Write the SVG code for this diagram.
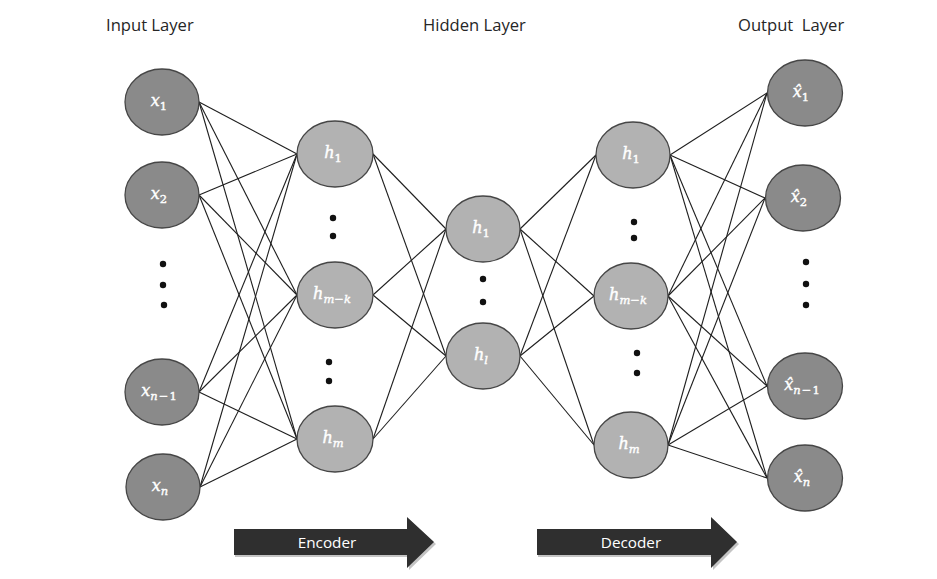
<svg xmlns="http://www.w3.org/2000/svg" width="937" height="579" viewBox="0 0 937 579">
<style>
.title{font-family:"Open Sans","Liberation Sans",sans-serif;font-size:16.6px;fill:#262626}
.dark{fill:#8a8a8a;stroke:#464646;stroke-width:1.3}
.light{fill:#b2b2b2;stroke:#464646;stroke-width:1.3}
.lbl{font-family:"DejaVu Serif","Liberation Serif",serif;font-style:italic;font-size:16px;fill:#ffffff;stroke:#ffffff;stroke-width:0.4;text-anchor:middle}
.sub{font-size:11.5px}
.num{font-style:normal}
.dot{fill:#111}
.conn line{stroke:#1e1e1e;stroke-width:1.1}
.arrow{fill:#2f2f2f}
.ashadow{fill:#c4c4c4}
.atext{font-family:"Open Sans","Liberation Sans",sans-serif;font-size:15.3px;fill:#ffffff;text-anchor:middle}
</style>
<rect width="937" height="579" fill="#ffffff"/>
<g id="titles">
<text class="title" x="106" y="31">Input Layer</text>
<text class="title" x="423" y="31">Hidden Layer</text>
<text class="title" x="738" y="31" xml:space="preserve">Output  Layer</text>
</g>
<g id="connectors" class="conn">
<line x1="199" y1="102" x2="297" y2="154"/><line x1="199" y1="102" x2="297" y2="295"/><line x1="199" y1="102" x2="297" y2="439"/>
<line x1="199" y1="195" x2="297" y2="154"/><line x1="199" y1="195" x2="297" y2="295"/><line x1="199" y1="195" x2="297" y2="439"/>
<line x1="199" y1="392" x2="297" y2="154"/><line x1="199" y1="392" x2="297" y2="295"/><line x1="199" y1="392" x2="297" y2="439"/>
<line x1="200" y1="487" x2="297" y2="154"/><line x1="200" y1="487" x2="297" y2="295"/><line x1="200" y1="487" x2="297" y2="439"/>
<line x1="373" y1="154" x2="446" y2="229"/><line x1="373" y1="154" x2="446" y2="356"/>
<line x1="373" y1="295" x2="446" y2="229"/><line x1="373" y1="295" x2="446" y2="356"/>
<line x1="373" y1="439" x2="446" y2="229"/><line x1="373" y1="439" x2="446" y2="356"/>
<line x1="520" y1="229" x2="596" y2="155"/><line x1="520" y1="229" x2="594" y2="296"/><line x1="520" y1="229" x2="594" y2="445"/>
<line x1="520" y1="356" x2="596" y2="155"/><line x1="520" y1="356" x2="594" y2="296"/><line x1="520" y1="356" x2="594" y2="445"/>
<line x1="670" y1="155" x2="767" y2="93"/><line x1="670" y1="155" x2="765" y2="198"/><line x1="670" y1="155" x2="767" y2="386"/><line x1="670" y1="155" x2="767" y2="478"/>
<line x1="668" y1="296" x2="767" y2="93"/><line x1="668" y1="296" x2="765" y2="198"/><line x1="668" y1="296" x2="767" y2="386"/><line x1="668" y1="296" x2="767" y2="478"/>
<line x1="668" y1="445" x2="767" y2="93"/><line x1="668" y1="445" x2="765" y2="198"/><line x1="668" y1="445" x2="767" y2="386"/><line x1="668" y1="445" x2="767" y2="478"/>
</g>
<g id="in1"><ellipse class="dark" cx="162" cy="102" rx="37" ry="33"/><text class="lbl" x="159" y="106">x<tspan class="sub num" dy="4">1</tspan></text></g>
<g id="in2"><ellipse class="dark" cx="162" cy="195" rx="37" ry="33"/><text class="lbl" x="159" y="199">x<tspan class="sub num" dy="4">2</tspan></text></g>
<g id="in3"><ellipse class="dark" cx="162" cy="392" rx="37" ry="33"/><text class="lbl" x="159" y="396">x<tspan class="sub" dy="4">n</tspan><tspan class="sub num" dx="1">−</tspan><tspan class="sub num" dx="1">1</tspan></text></g>
<g id="in4"><ellipse class="dark" cx="163" cy="487" rx="37" ry="33"/><text class="lbl" x="160" y="491">x<tspan class="sub" dy="4">n</tspan></text></g>
<g id="in-dots"><circle class="dot" cx="163" cy="264" r="3.2"/><circle class="dot" cx="163" cy="285" r="3.2"/><circle class="dot" cx="164" cy="305" r="3.2"/></g>
<g id="enc1"><ellipse class="light" cx="335" cy="154" rx="38" ry="33"/><text class="lbl" x="333" y="158">h<tspan class="sub num" dy="4">1</tspan></text></g>
<g id="enc2"><ellipse class="light" cx="335" cy="295" rx="38" ry="33"/><text class="lbl" x="332" y="299">h<tspan class="sub" dy="4">m</tspan><tspan class="sub num">−</tspan><tspan class="sub">k</tspan></text></g>
<g id="enc3"><ellipse class="light" cx="335" cy="439" rx="38" ry="33"/><text class="lbl" x="333" y="443">h<tspan class="sub" dy="4">m</tspan></text></g>
<g id="enc-dots"><circle class="dot" cx="333" cy="218" r="3.2"/><circle class="dot" cx="333" cy="236" r="3.2"/><circle class="dot" cx="329" cy="362" r="3.2"/><circle class="dot" cx="329" cy="381" r="3.2"/></g>
<g id="mid1"><ellipse class="light" cx="483" cy="229" rx="37" ry="33"/><text class="lbl" x="481" y="233">h<tspan class="sub num" dy="4">1</tspan></text></g>
<g id="mid2"><ellipse class="light" cx="483" cy="356" rx="37" ry="33"/><text class="lbl" x="481" y="360">h<tspan class="sub" dy="4">l</tspan></text></g>
<g id="mid-dots"><circle class="dot" cx="483" cy="279" r="3.2"/><circle class="dot" cx="483" cy="302" r="3.2"/></g>
<g id="dec1"><ellipse class="light" cx="633" cy="155" rx="37" ry="33"/><text class="lbl" x="631" y="159">h<tspan class="sub num" dy="4">1</tspan></text></g>
<g id="dec2"><ellipse class="light" cx="631" cy="296" rx="37" ry="33"/><text class="lbl" x="628" y="300">h<tspan class="sub" dy="4">m</tspan><tspan class="sub num">−</tspan><tspan class="sub">k</tspan></text></g>
<g id="dec3"><ellipse class="light" cx="631" cy="445" rx="37" ry="33"/><text class="lbl" x="629" y="449">h<tspan class="sub" dy="4">m</tspan></text></g>
<g id="dec-dots"><circle class="dot" cx="634" cy="222" r="3.2"/><circle class="dot" cx="634" cy="238" r="3.2"/><circle class="dot" cx="637" cy="353" r="3.2"/><circle class="dot" cx="637" cy="373" r="3.2"/></g>
<g id="out1"><ellipse class="dark" cx="805" cy="93" rx="37.5" ry="33"/><text class="lbl" x="801" y="97">x̂<tspan class="sub num" dy="4">1</tspan></text></g>
<g id="out2"><ellipse class="dark" cx="803" cy="198" rx="37.5" ry="33"/><text class="lbl" x="799" y="202">x̂<tspan class="sub num" dy="4">2</tspan></text></g>
<g id="out3"><ellipse class="dark" cx="805" cy="386" rx="37.5" ry="33"/><text class="lbl" x="802" y="390">x̂<tspan class="sub" dy="4">n</tspan><tspan class="sub num" dx="1">−</tspan><tspan class="sub num" dx="1">1</tspan></text></g>
<g id="out4"><ellipse class="dark" cx="805" cy="478" rx="37.5" ry="33"/><text class="lbl" x="802" y="482">x̂<tspan class="sub" dy="4">n</tspan></text></g>
<g id="out-dots"><circle class="dot" cx="806" cy="262" r="3.2"/><circle class="dot" cx="806" cy="284" r="3.2"/><circle class="dot" cx="806" cy="305" r="3.2"/></g>
<g id="encoder-arrow">
<polygon class="ashadow" points="235,530 409,530 409,519 436,544 409,570 409,557 235,557"/>
<polygon class="arrow" points="234,529 407,529 407,517 434,542 407,568 407,555 234,555"/>
<text class="atext" x="327" y="548">Encoder</text>
</g>
<g id="decoder-arrow">
<polygon class="ashadow" points="538,530 713,530 713,519 739,544 713,570 713,557 538,557"/>
<polygon class="arrow" points="537,529 711,529 711,517 737,542 711,568 711,555 537,555"/>
<text class="atext" x="631" y="548">Decoder</text>
</g>
</svg>
